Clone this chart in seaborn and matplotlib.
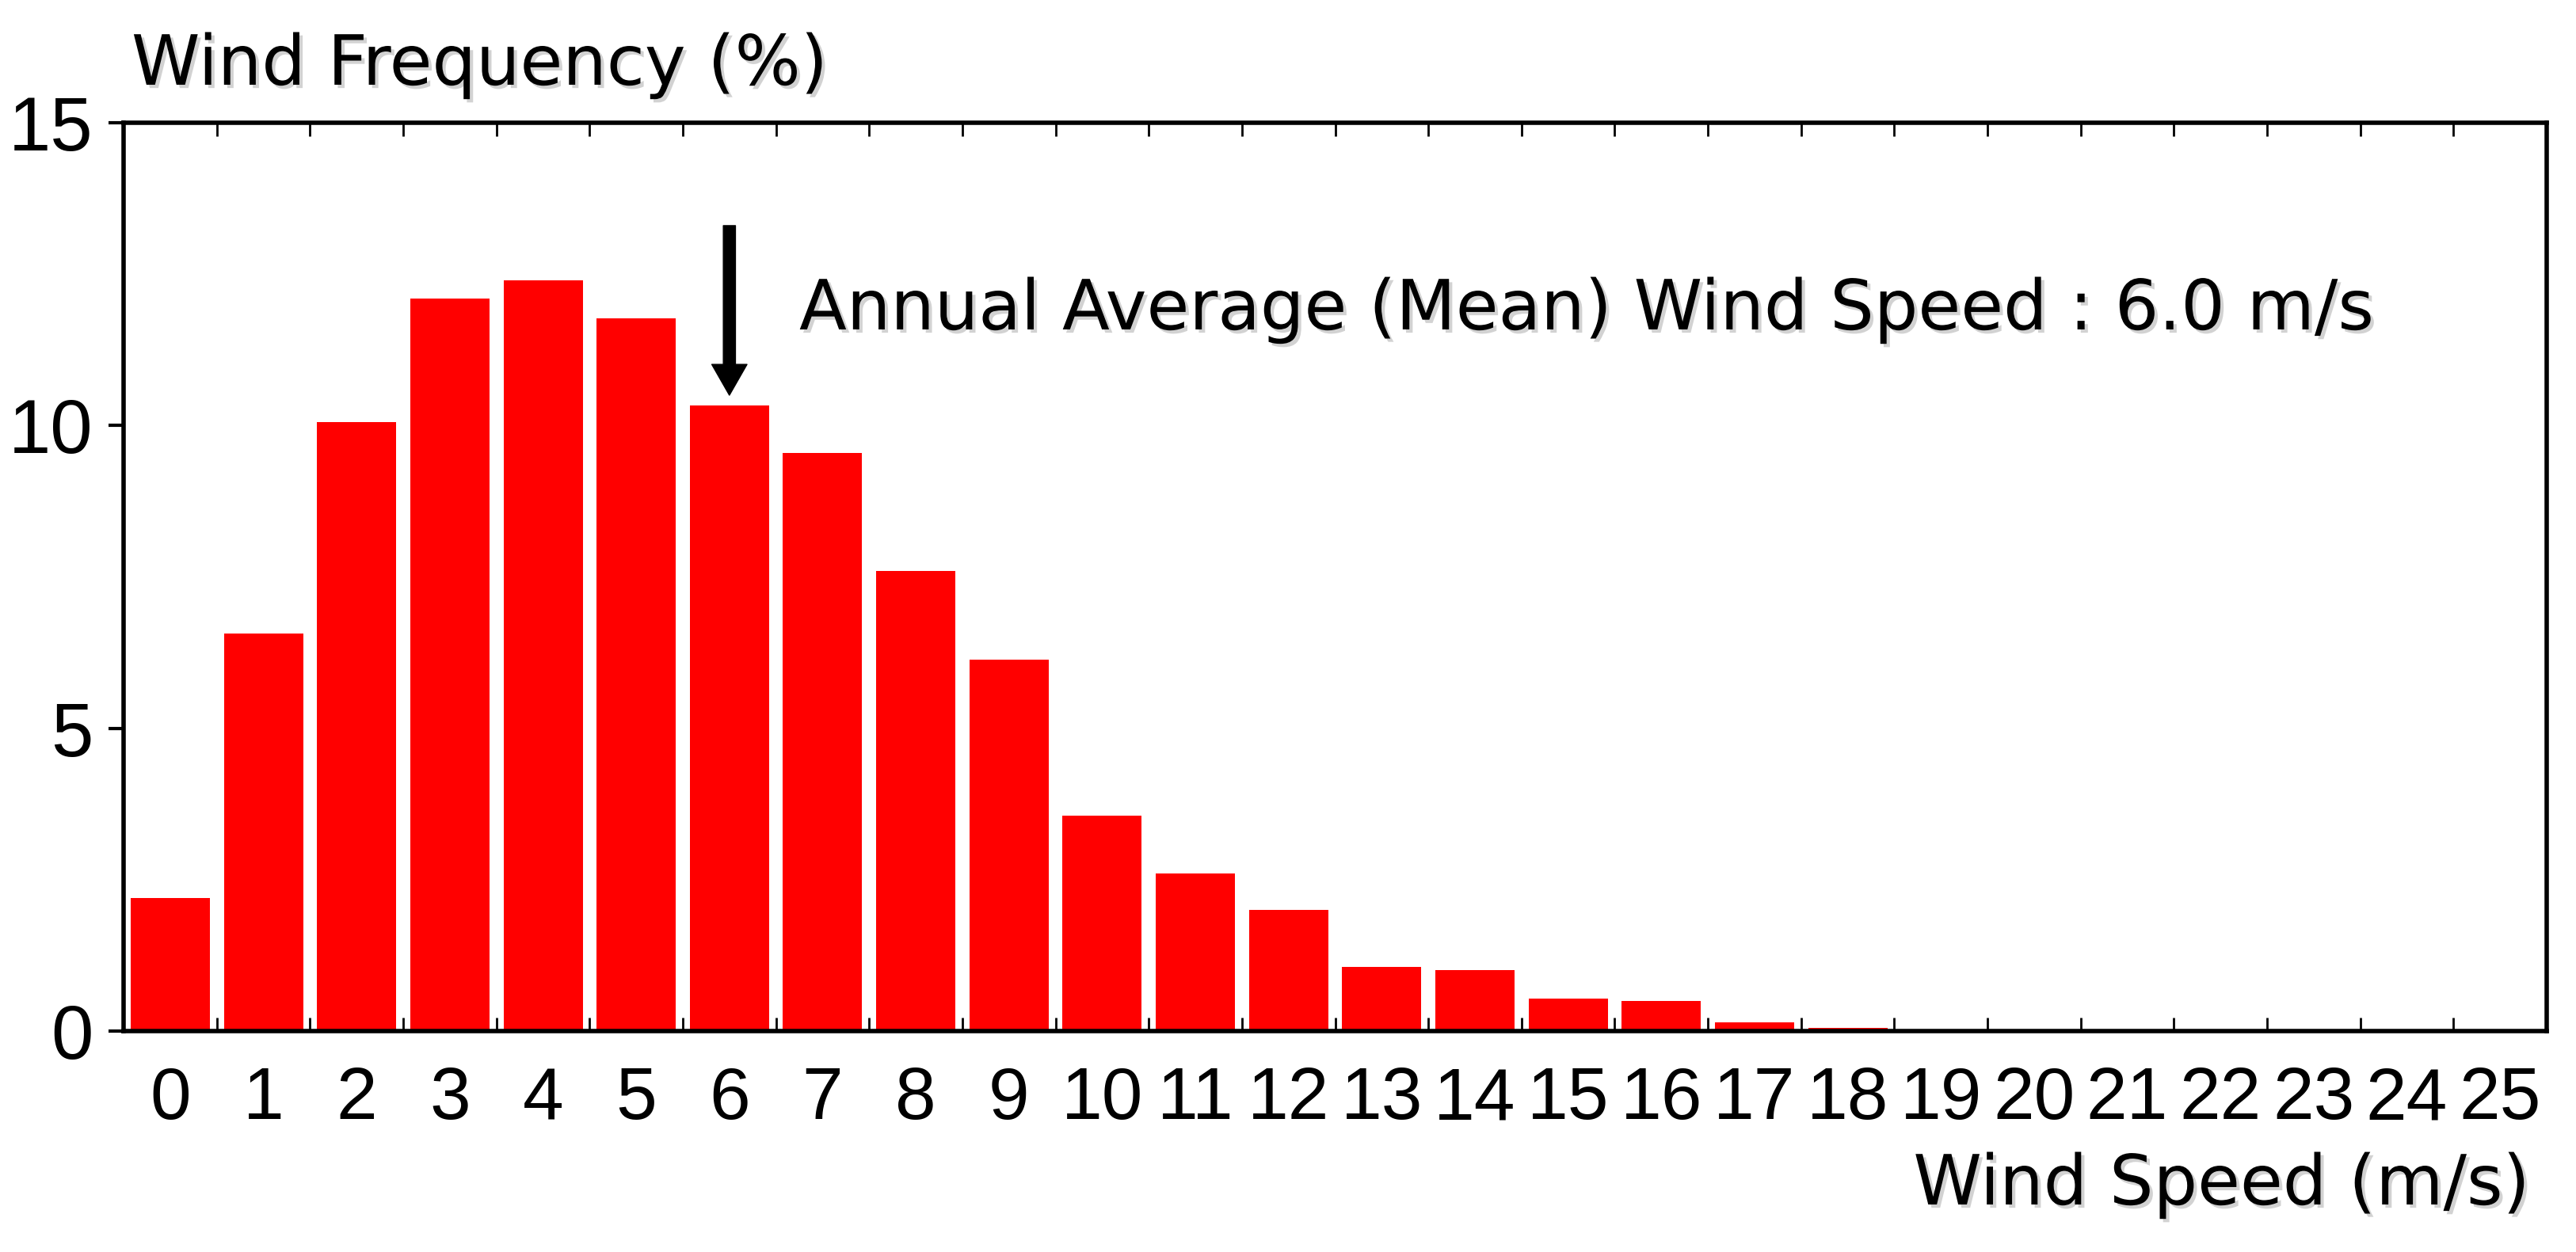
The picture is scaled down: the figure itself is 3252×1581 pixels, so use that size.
#!/usr/bin/env python3
"""wind speed frequency distribution - bar chart"""

import matplotlib.pyplot as plt
import matplotlib.patheffects as pe
import numpy as np
import pandas as pd
import seaborn as sns

# wind speed bins (m/s) and frequency (%)
speeds = [str(s) for s in range(26)]
freq = [2.2, 6.56, 10.06, 12.1, 12.4, 11.77, 10.33, 9.55, 7.6, 6.13,
        3.55, 2.6, 2.0, 1.06, 1.0, 0.54, 0.49, 0.14, 0.05, 0, 0, 0, 0, 0, 0, 0]
yticks = [0, 5, 10, 15]
mean_speed = 6.0
mean_bin = 6
arrow_top, arrow_tip = 13.3, 10.5

sns.set_style("white")
plt.rcParams["font.family"] = ["DejaVu Sans Condensed", "DejaVu Sans"]
plt.rcParams["text.color"] = "black"
plt.rcParams["xtick.color"] = "black"
plt.rcParams["ytick.color"] = "black"

shadow = [pe.SimplePatchShadow(offset=(3, -3), alpha=0.35, shadow_rgbFace="gray"), pe.Normal()]
tick_font = ["Liberation Sans", "DejaVu Sans"]

df = pd.DataFrame({"speed": speeds, "freq": freq})

fig = plt.figure(figsize=(32.52, 15.81), dpi=100)
ax = fig.add_axes([0.048, 0.1765, 0.9406, 0.7255])
sns.barplot(data=df, x="speed", y="freq", color="#ff0000", saturation=1,
            width=0.85, edgecolor="none", ax=ax)

ax.set_xlim(-0.5, len(speeds) - 0.5)
ax.set_ylim(0, 15)
ax.set_yticks(yticks)
ax.set_xlabel("")
ax.set_ylabel("")

# bin edges as inner ticks top and bottom, labels centered on bars
ax.set_xticks(np.arange(-0.5, len(speeds)), minor=True)
ax.tick_params(axis="x", which="major", length=0, pad=32, labelsize=67)
ax.tick_params(axis="x", which="minor", direction="in", length=12, width=2,
               top=True, bottom=True)
ax.tick_params(axis="y", which="major", direction="out", length=14, width=3,
               left=True, pad=14, labelsize=69)
for lab in ax.get_xticklabels() + ax.get_yticklabels():
    lab.set_family(tick_font)

for sp in ax.spines.values():
    sp.set_visible(True)
    sp.set_linewidth(4)
    sp.set_color("black")

fig.text(166 / 3252, 1 - 83 / 1581, "Wind Frequency (%)", fontsize=63,
         ha="left", va="center", path_effects=shadow)
fig.text(3194 / 3252, 1 - 1497 / 1581, "Wind Speed (m/s)", fontsize=63,
         ha="right", va="center", path_effects=shadow)

ax.annotate("", xy=(mean_bin, arrow_tip), xytext=(mean_bin, arrow_top),
            arrowprops=dict(facecolor="black", edgecolor="black", width=11,
                            headwidth=32, headlength=28, shrink=0))
ax.text(mean_bin + 0.75, 11.9, f"Annual Average (Mean) Wind Speed : {mean_speed:.1f} m/s",
        fontsize=63, ha="left", va="center", path_effects=shadow)

fig.savefig("out.png", dpi=100, facecolor="white")
